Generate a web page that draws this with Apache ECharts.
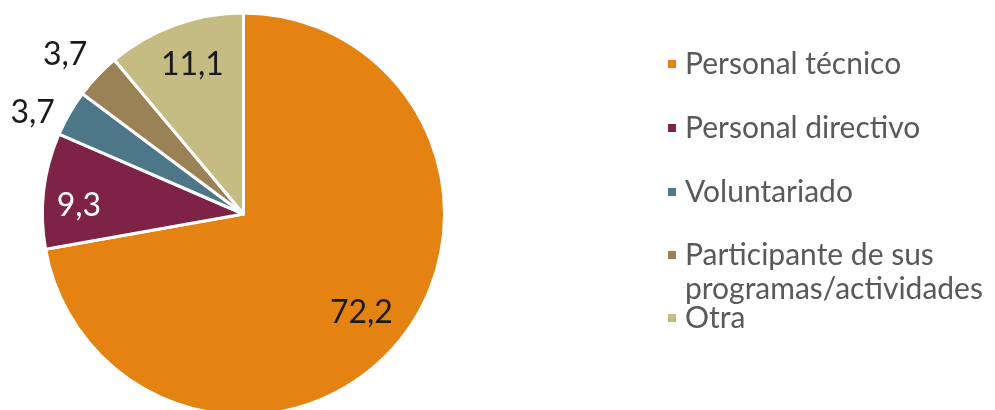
<!DOCTYPE html>
<html>
<head>
<meta charset="utf-8">
<script src="https://cdn.jsdelivr.net/npm/echarts@6/dist/echarts.min.js"></script>
<style>
html,body{margin:0;padding:0;background:#fff;}
#chart{width:995px;height:410px;}
</style>
</head>
<body>
<div id="chart"></div>
<script>
const categories = ['Personal técnico', 'Personal directivo', 'Voluntariado', 'Participante de sus programas/actividades', 'Otra'];
const values = [72.2, 9.3, 3.7, 3.7, 11.1];

const colors = ['#E58312', '#7E2346', '#4D7689', '#9B8156', '#C4BC83'];
const labelColors = ['#1a1a1a', '#ffffff', '#1a1a1a', '#1a1a1a', '#1a1a1a'];
const CX = 243.5, CY = 214, R = 201;
const FONT = 'Lato, "Noto Sans", sans-serif';
const LH = 34;
// label placement: [radius fraction, angular nudge in degrees]
const labelPlacement = [[0.765, 0], [0.82, -3.9], [1.165, -4.3], [1.19, -1.6], [0.785, 1.1]];

const total = values.reduce((a, b) => a + b, 0);
function midAngle(i) {
  let before = 0;
  for (let k = 0; k < i; k++) before += values[k];
  return ((before + values[i] / 2) / total) * 2 * Math.PI;
}

const legendCenters = [64, 128, 192, 255, 318];
const legends = categories.map((name, i) => {
  const twoLine = name.indexOf('programas') >= 0;
  return {
    orient: 'vertical',
    left: 666,
    top: twoLine ? legendCenters[i] - LH * 1.5 : legendCenters[i] - LH / 2,
    padding: 0,
    itemWidth: 10,
    itemHeight: 10,
    itemGap: 0,
    icon: 'rect',
    selectedMode: false,
    data: [name],
    formatter: n => {
      if (n.indexOf('sus programas') >= 0) {
        const parts = n.split('sus ');
        return '{t| }\n{t|' + parts[0] + 'sus}\n{t|' + parts[1] + '}';
      }
      return '{t|' + n + '}';
    },
    textStyle: {
      fontFamily: FONT,
      fontSize: 30,
      color: '#595959',
      lineHeight: LH,
      rich: {
        t: {
          fontFamily: FONT,
          fontSize: 30,
          color: '#595959',
          lineHeight: LH,
          padding: [0, 0, 0, 3]
        }
      }
    }
  };
});

const chart = echarts.init(document.getElementById('chart'), null, {renderer: 'canvas'});
chart.setOption({
  animation: false,
  color: colors,
  legend: legends,
  series: [{
    type: 'pie',
    center: [CX, CY],
    radius: [0, R],
    startAngle: 90,
    clockwise: true,
    avoidLabelOverlap: false,
    itemStyle: {borderColor: '#ffffff', borderWidth: 3},
    label: {
      show: true,
      position: 'inside',
      fontFamily: FONT,
      fontSize: 32,
      formatter: p => String(p.value).replace('.', ',')
    },
    labelLine: {show: false},
    emphasis: {disabled: true},
    labelLayout: p => {
      const i = p.dataIndex;
      const a = midAngle(i) + labelPlacement[i][1] * Math.PI / 180;
      const d = R * labelPlacement[i][0];
      return {
        x: CX + Math.sin(a) * d,
        y: CY - Math.cos(a) * d,
        align: 'center',
        verticalAlign: 'middle'
      };
    },
    data: categories.map((name, i) => ({
      name: name,
      value: values[i],
      label: {color: labelColors[i]}
    }))
  }]
});
</script>
</body>
</html>
